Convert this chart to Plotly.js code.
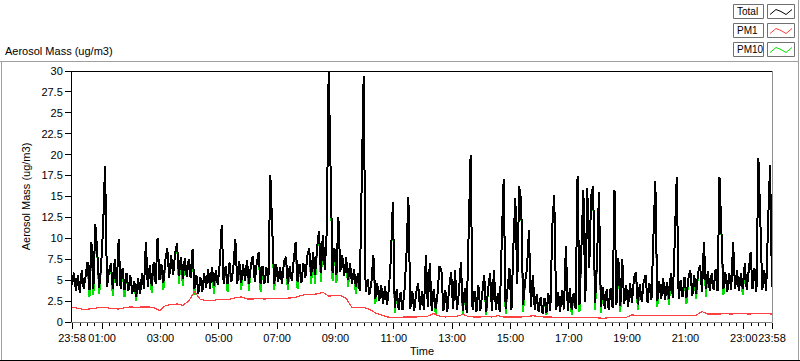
<!DOCTYPE html>
<html>
<head>
<meta charset="utf-8">
<script src="https://cdn.plot.ly/plotly-3.0.1.min.js"></script>
<style>
html,body{margin:0;padding:0;background:#fff;}
#chart{width:800px;height:361px;}
#chart path.js-line{shape-rendering:crispEdges;}
</style>
</head>
<body>
<div id="chart"></div>
<script>
// ---- data ----
const startTime = Date.UTC(2000, 0, 1, 23, 58);
const totalStepMin = 4;
const pm1StepMin = 12;

const totalValues = [
4.4,5.9,3.7,5.6,3.5,6.2,4.0,5.5,7.2,3.8,
9.5,4.0,11.7,8.3,4.1,6.8,11.3,18.7,4.2,6.0,
7.0,3.9,7.5,4.3,9.9,4.0,6.4,3.8,5.9,3.7,
5.6,3.4,4.9,3.0,5.2,3.3,5.8,4.0,9.5,4.2,
6.8,4.3,7.2,4.6,10.0,5.0,6.9,4.7,7.4,8.8,
5.3,8.0,5.6,8.2,9.4,5.5,7.8,5.2,7.6,5.4,
7.5,5.3,8.7,4.0,5.6,3.4,5.4,3.6,5.8,4.1,
6.3,4.0,6.6,4.3,6.2,4.4,7.0,11.6,4.5,6.7,
4.5,7.1,4.8,6.6,9.9,4.6,7.3,4.7,6.9,4.9,
7.4,4.6,6.8,7.9,4.8,7.0,8.3,4.5,6.7,4.6,
6.5,4.7,17.6,11.1,4.6,6.9,4.8,6.6,4.5,7.2,
7.8,4.6,6.7,4.9,7.3,9.6,4.8,6.9,4.7,7.0,
5.3,7.9,8.8,5.5,8.3,5.6,8.7,10.9,5.9,10.4,
6.2,10.8,29.9,18.1,5.9,8.8,5.6,12.5,6.0,8.0,
5.5,7.7,5.0,7.0,4.5,6.3,4.2,5.8,3.7,16.8,
29.4,3.6,5.1,3.3,4.8,8.0,2.8,4.6,2.5,4.4,
2.2,4.3,2.0,4.0,7.6,14.3,1.7,3.9,1.5,3.6,
1.4,3.8,8.0,14.9,1.6,3.7,1.3,3.5,4.6,1.5,
3.7,1.4,8.0,1.8,7.0,1.3,3.9,1.6,3.4,6.7,
6.1,1.3,3.8,1.2,4.2,6.0,1.5,6.2,1.4,3.6,
7.2,1.3,4.0,1.1,10.6,20.0,1.4,3.7,1.2,4.4,
1.3,3.5,5.6,1.2,3.9,5.8,1.3,6.2,1.5,3.4,
1.2,9.5,17.1,1.6,4.0,6.4,1.4,9.1,14.8,4.6,
16.2,14.5,2.0,4.8,6.4,11.0,1.8,5.6,1.5,3.3,
1.2,3.0,1.0,2.9,1.1,3.4,1.3,11.4,15.2,1.4,
3.6,1.2,3.8,1.5,9.1,1.3,4.0,1.4,3.5,1.6,
17.4,2.0,9.0,15.8,2.4,16.0,6.5,15.1,16.2,2.3,
7.2,15.5,1.8,4.2,1.6,3.9,1.5,4.1,1.7,15.8,
2.0,7.6,1.9,7.5,2.2,4.4,1.8,4.6,2.3,5.2,
6.0,2.1,4.5,2.4,4.8,5.6,2.3,4.6,2.6,10.0,
16.8,2.5,4.9,2.7,5.3,2.6,4.8,2.8,5.8,2.9,
9.8,17.3,2.8,5.0,3.0,5.4,2.9,5.2,6.2,3.1,
5.6,3.4,5.9,6.8,3.6,9.5,3.9,6.1,3.7,5.8,
3.8,6.3,3.7,17.3,10.7,3.9,6.0,3.6,5.9,3.8,
9.5,3.9,6.2,3.7,5.8,3.9,7.0,3.8,6.1,8.3,
3.9,6.4,3.6,19.6,12.1,3.8,6.2,3.7,12.0,18.8,
4.2
];

const pm10Values = [
4.4,5.9,3.7,5.6,3.5,6.2,4.0,5.5,7.2,3.0,
9.5,3.2,11.7,8.3,3.3,6.8,11.3,18.7,4.2,6.0,
7.0,3.1,7.5,4.3,9.9,4.0,6.4,3.0,5.9,3.7,
5.6,3.4,4.9,2.5,5.2,3.3,5.8,4.0,9.5,4.2,
6.8,3.5,7.2,4.6,10.0,5.0,6.9,3.8,7.4,8.8,
5.3,8.0,5.6,8.2,9.4,4.6,7.8,4.3,7.6,5.4,
7.5,5.3,8.7,3.2,5.6,3.4,5.4,3.6,5.8,4.1,
6.3,4.0,6.6,3.4,6.2,4.4,7.0,11.6,4.5,6.7,
3.6,7.1,4.8,6.6,9.9,4.6,7.3,3.8,6.9,4.9,
7.4,3.7,6.8,7.9,4.8,7.0,8.3,3.6,6.7,4.6,
6.5,4.7,17.6,11.1,3.8,6.9,4.8,6.6,4.5,7.2,
7.8,3.8,6.7,4.9,7.3,9.6,4.0,6.9,4.7,7.0,
5.3,7.9,8.8,4.6,8.3,4.6,8.7,10.9,4.8,10.4,
6.2,10.8,29.9,18.1,4.9,8.8,4.7,12.5,6.0,8.0,
5.5,7.7,4.2,7.0,4.5,6.3,3.3,5.8,3.7,16.8,
29.4,3.6,5.1,3.3,4.8,8.0,2.1,4.6,2.5,4.4,
2.2,4.3,2.0,4.0,7.6,14.3,1.1,3.9,1.5,3.6,
1.4,3.8,8.0,14.9,1.6,3.7,1.3,3.5,4.6,1.5,
3.7,1.4,8.0,1.8,7.0,1.3,3.9,1.0,3.4,6.7,
6.1,1.3,3.8,1.2,4.2,6.0,1.5,6.2,1.4,3.6,
7.2,0.9,4.0,1.1,10.6,20.0,1.4,3.7,1.2,4.4,
1.3,3.5,5.6,0.8,3.9,5.8,1.3,6.2,1.5,3.4,
1.2,9.5,17.1,1.0,4.0,6.4,1.4,9.1,14.8,4.6,
16.2,14.5,1.2,4.8,6.4,11.0,1.8,5.6,1.5,3.3,
1.2,3.0,1.0,2.9,0.8,3.4,1.3,11.4,15.2,1.4,
3.6,1.2,3.8,1.5,9.1,1.3,4.0,0.9,3.5,1.6,
17.4,1.2,9.0,15.8,2.4,16.0,6.5,15.1,16.2,1.4,
7.2,15.5,1.1,4.2,1.6,3.9,1.5,4.1,1.7,15.8,
2.0,7.6,1.2,7.5,2.2,4.4,1.8,4.6,2.3,5.2,
6.0,1.5,4.5,2.4,4.8,5.6,2.3,4.6,2.6,10.0,
16.8,1.8,4.9,2.7,5.3,2.6,4.8,2.0,5.8,2.9,
9.8,17.3,2.8,5.0,3.0,5.4,2.2,5.2,6.2,3.1,
5.6,2.8,5.9,6.8,3.6,9.5,3.0,6.1,3.7,5.8,
3.8,6.3,3.7,17.3,10.7,3.2,6.0,3.6,5.9,3.8,
9.5,3.9,6.2,3.7,5.8,3.2,7.0,3.8,6.1,8.3,
3.9,6.4,3.6,19.6,12.1,3.8,6.2,3.7,12.0,18.8,
4.2
];

const pm1Values = [
1.75,1.65,1.5,1.55,1.65,1.75,1.7,1.6,1.55,1.7,
1.8,1.75,1.8,1.8,1.75,1.35,1.95,2.1,2.15,2.0,
2.5,3.6,2.7,2.55,2.55,2.7,2.65,2.7,2.9,3.0,
2.75,2.75,2.8,2.75,2.8,2.8,2.85,2.85,2.9,3.1,
3.3,3.3,3.35,3.55,3.1,3.15,3.15,2.85,1.7,1.75,
1.75,1.5,1.1,0.85,0.6,0.55,0.55,0.6,0.6,0.6,
0.65,0.7,1.0,0.7,0.6,0.65,0.7,0.9,0.65,0.6,
0.6,0.65,0.6,0.75,0.6,0.6,0.6,0.6,0.65,0.75,
0.65,0.6,0.6,0.55,0.55,0.5,0.5,0.5,0.5,0.5,
0.5,0.45,0.5,0.5,0.55,0.55,0.85,0.75,0.75,0.75,
0.75,0.75,0.8,0.75,0.75,0.75,0.8,0.8,1.25,0.95,
0.95,0.95,1.0,0.95,1.0,1.0,0.95,1.0,1.05,1.0,
0.95
];

const tickTimes = ['2000-01-01 23:58','2000-01-02 01:00','2000-01-02 03:00','2000-01-02 05:00',
  '2000-01-02 07:00','2000-01-02 09:00','2000-01-02 11:00','2000-01-02 13:00','2000-01-02 15:00',
  '2000-01-02 17:00','2000-01-02 19:00','2000-01-02 21:00','2000-01-02 23:00','2000-01-02 23:58'];
const tickLabels = ['23:58','01:00','03:00','05:00','07:00','09:00','11:00','13:00','15:00',
  '17:00','19:00','21:00','23:00','23:58'];
const yTickVals = [0,2.5,5,7.5,10,12.5,15,17.5,20,22.5,25,27.5,30];
const seriesNames = ['Total','PM1','PM10'];
const seriesColors = ['#000000','#ff4040','#00e000'];

// ---- helpers ----
function fmt(ms){ return new Date(ms).toISOString().replace('T',' ').slice(0,19); }
function timeGrid(n, stepMin){ const a=[]; for(let i=0;i<n;i++) a.push(fmt(startTime + i*stepMin*60000)); return a; }
const tTotal = timeGrid(totalValues.length, totalStepMin);
const tPm10 = timeGrid(pm10Values.length, totalStepMin);
const tPm1 = timeGrid(pm1Values.length, pm1StepMin);

const W=800, H=361, ML=72, MR=28, MT=71, MB=39;
const PW = W-ML-MR, PH = H-MT-MB;
const px = v => (v-ML)/PW;
const py = v => (H-MB-v)/PH;

const FONT = {family:'"Liberation Sans", Arial, sans-serif', size:11, color:'#000'};
const LEGFONT = {family:'"Liberation Sans", Arial, sans-serif', size:10, color:'#000'};

const traces = [
  {x:tPm10, y:pm10Values, type:'scatter', mode:'lines', name:seriesNames[2],
   line:{color:seriesColors[2], width:2, simplify:false}, showlegend:false, hoverinfo:'skip'},
  {x:tPm1, y:pm1Values, type:'scatter', mode:'lines', name:seriesNames[1],
   line:{color:seriesColors[1], width:1.2, simplify:false}, showlegend:false, hoverinfo:'skip'},
  {x:tTotal, y:totalValues, type:'scatter', mode:'lines', name:seriesNames[0],
   line:{color:seriesColors[0], width:2, simplify:false}, showlegend:false, hoverinfo:'skip'}
];

const shapes = [];
const annotations = [];
function hline(x0,x1,y,color){ shapes.push({type:'line', xref:'paper', yref:'paper', x0:px(x0), x1:px(x1), y0:py(y), y1:py(y), line:{color:color, width:1}}); }
function vline(x,y0,y1,color){ shapes.push({type:'line', xref:'paper', yref:'paper', x0:px(x), x1:px(x), y0:py(y0), y1:py(y1), line:{color:color, width:1}}); }
function rect(x0,y0,x1,y1,color){ shapes.push({type:'rect', xref:'paper', yref:'paper', x0:px(x0), x1:px(x1), y0:py(y0), y1:py(y1), line:{color:color, width:1}, fillcolor:'#ffffff'}); }

// plot frame
hline(72, 772.5, 71.5, '#000000');
vline(772.5, 71.5, 322.5, '#909090');
// outer panel frame
hline(0, 798.5, 61.5, '#a0a0a0');
vline(1.5, 61.5, 361, '#a0a0a0');
vline(798.5, 0, 361, '#a0a0a0');
hline(0, 800, 360.5, '#000000');

// legend
const legTops = [4.5, 23.5, 42.5];
const legH = 14;
seriesNames.forEach((nm, k) => {
  const y0 = legTops[k];
  rect(733.5, y0, 763.5, y0+legH, '#707070');
  rect(767.5, y0, 794.5, y0+legH, '#707070');
  const pts = [[770,y0+10],[776,y0+5],[781,y0+7],[786,y0+10],[792,y0+5]];
  let d = 'M ' + pts.map(p => px(p[0]) + ',' + py(p[1])).join(' L ');
  shapes.push({type:'path', xref:'paper', yref:'paper', path:d, line:{color:seriesColors[k], width:1}});
  annotations.push({text:nm, xref:'paper', yref:'paper', x:px(734.5), y:py(y0+legH/2), xanchor:'left', yanchor:'middle', showarrow:false, font:LEGFONT});
});

const layout = {
  width:W, height:H,
  margin:{l:ML, r:MR, t:MT, b:MB, pad:0},
  paper_bgcolor:'#ffffff', plot_bgcolor:'#ffffff',
  font:FONT,
  title:{text:'Aerosol Mass (ug/m3)', xref:'container', yref:'container', x:5/W, xanchor:'left', y:1-51/H, yanchor:'middle', font:FONT},
  showlegend:false,
  xaxis:{
    type:'date', range:[fmt(startTime), fmt(startTime+24*3600000)],
    tickmode:'array', tickvals:tickTimes, ticktext:tickLabels, tickangle:0,
    ticks:'outside', ticklen:6, tickwidth:1, tickcolor:'#000',
    minor:{dtick:15*60000, tick0:'2000-01-02 00:00', ticks:'outside', ticklen:3, tickcolor:'#000', showgrid:false},
    showgrid:false, zeroline:false, showline:true, linecolor:'#808080', linewidth:1,
    tickfont:FONT,
    title:{text:'Time', font:FONT, standoff:4}
  },
  yaxis:{
    range:[0,30], tickmode:'array', tickvals:yTickVals, ticktext:yTickVals.map(String),
    ticks:'outside', ticklen:6, tickwidth:1, tickcolor:'#000',
    showgrid:false, zeroline:false, showline:true, linecolor:'#000', linewidth:1,
    tickfont:FONT,
    title:{text:'Aerosol Mass (ug/m3)', font:FONT, standoff:8}
  },
  shapes:shapes,
  annotations:annotations
};

Plotly.newPlot('chart', traces, layout, {staticPlot:true, displayModeBar:false});
</script>
</body>
</html>
